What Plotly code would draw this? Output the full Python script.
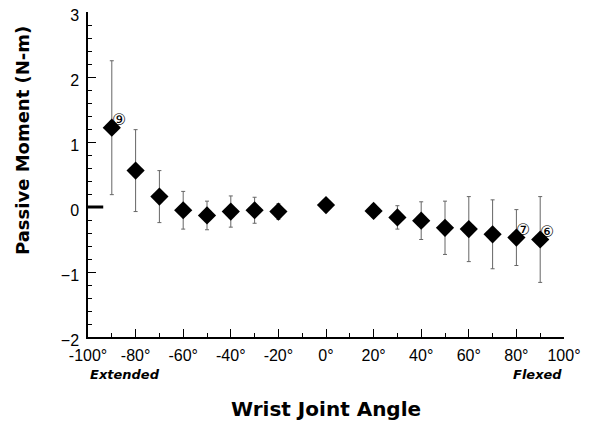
import plotly.graph_objects as go

angles = [-90, -80, -70, -60, -50, -40, -30, -20, 0, 20, 30, 40, 50, 60, 70, 80, 90]
moment = [1.22, 0.56, 0.16, -0.05, -0.13, -0.07, -0.05, -0.07, 0.03, -0.06, -0.16, -0.21, -0.32, -0.34, -0.42, -0.47, -0.50]
err = [1.03, 0.63, 0.40, 0.29, 0.22, 0.24, 0.20, 0.12, 0.04, 0.10, 0.18, 0.29, 0.41, 0.50, 0.53, 0.43, 0.66]

x_tickvals = [-100, -80, -60, -40, -20, 0, 20, 40, 60, 80, 100]
x_ticktext = ["-100°", "-80°", "-60°", "-40°", "-20°", "0°", "20°", "40°", "60°", "80°", "100°"]
y_tickvals = [-2, -1, 0, 1, 2, 3]

note_x = [-87, 82.8, 92.9]
note_y = [1.34, -0.34, -0.37]
note_text = ["⑨", "⑦", "⑥"]

fig = go.Figure()
fig.add_trace(go.Scatter(
    x=angles, y=moment, mode="markers",
    marker=dict(symbol="diamond", size=14, color="black"),
    error_y=dict(type="data", array=err, visible=True, color="#666666", thickness=1, width=2),
    showlegend=False,
))

for xv, yv, t in zip(note_x, note_y, note_text):
    fig.add_annotation(x=xv, y=yv, text=t, showarrow=False,
                       font=dict(family="DejaVu Sans", size=16, color="black"))

fig.add_annotation(x=0, y=-0.115, xref="paper", yref="paper", xanchor="left", yanchor="middle",
                   text="<b><i>Extended</i></b>", showarrow=False,
                   font=dict(family="DejaVu Sans", size=13, color="black"))
fig.add_annotation(x=1, y=-0.115, xref="paper", yref="paper", xanchor="right", yanchor="middle",
                   text="<b><i>Flexed</i></b>", showarrow=False,
                   font=dict(family="DejaVu Sans", size=13, color="black"))

# axis titles
fig.add_annotation(x=0.5, y=-0.2215, xref="paper", yref="paper", xanchor="center", yanchor="middle",
                   text="<b>Wrist Joint Angle</b>", showarrow=False,
                   font=dict(family="DejaVu Sans", size=20, color="black"))
fig.add_annotation(x=-0.1387, y=0.606, xref="paper", yref="paper", xanchor="center", yanchor="middle",
                   text="<b>Passive Moment (N-m)</b>", showarrow=False, textangle=-90,
                   font=dict(family="DejaVu Sans", size=18, color="black"))

# short thick zero mark at the left spine
fig.add_shape(type="line", xref="paper", yref="y", x0=0, x1=0.032, y0=0, y1=0,
              line=dict(color="black", width=3))

# page body keeps an 8px default margin, so the figure is sized to fit the window
fig.update_layout(
    width=584, height=414,
    margin=dict(l=80, r=28, t=4, b=85),
    paper_bgcolor="white", plot_bgcolor="white",
    font=dict(family="Liberation Sans, Arial", size=16, color="black"),
    xaxis=dict(
        range=[-100, 100], tickvals=x_tickvals, ticktext=x_ticktext,
        ticks="inside", ticklen=8, tickwidth=1, tickcolor="black",
        minor=dict(dtick=10, tick0=0, ticks="inside", ticklen=4, tickcolor="black"),
        showline=True, linecolor="black", linewidth=1.5,
        showgrid=False, zeroline=False, automargin=False,
        ticklabeloverflow="allow", ticklabelstandoff=3,
    ),
    yaxis=dict(
        range=[-2, 3], tickvals=y_tickvals,
        ticks="inside", ticklen=8, tickwidth=1, tickcolor="black",
        minor=dict(dtick=0.2, tick0=0, ticks="inside", ticklen=4, tickcolor="black"),
        showline=True, linecolor="black", linewidth=1.5,
        showgrid=False, zeroline=False, automargin=False,
        ticklabelstandoff=4, ticklabelshift=3, ticklabeloverflow="allow",
    ),
)

fig.write_html("out.html")
